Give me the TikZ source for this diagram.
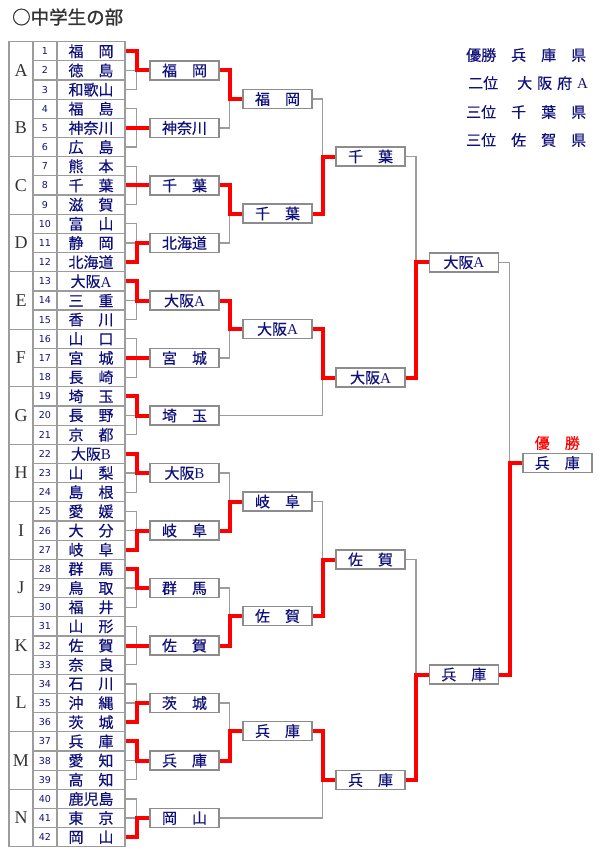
\documentclass[tikz,border=0pt]{standalone}
\usepackage{fontspec}
\setmainfont{Noto Sans CJK JP}[FakeBold=0.4]
\newfontfamily\titlefont{Noto Sans CJK JP}[FakeBold=1.2]
\newfontfamily\latinfont{Liberation Serif}
\newfontfamily\numfont{DejaVu Sans}
\usepackage{xcolor}
\definecolor{name-navy}{HTML}{10107A}
\definecolor{line-gray}{HTML}{9C9C9C}
\definecolor{box-gray}{HTML}{8C8C8C}
\definecolor{win-red}{HTML}{FF0000}
\definecolor{title-gray}{HTML}{333333}

\newcommand{\lat}[1]{{\latinfont #1}}

\tikzset{
  tcell/.style={draw=line-gray, line width=1.2pt, inner sep=0pt, minimum height=19.17pt},
  namecell/.style={tcell, minimum width=68pt, text=name-navy, font=\fontsize{15}{15}\selectfont},
  numcell/.style={tcell, minimum width=24pt, text=name-navy, font=\numfont\fontsize{9.5}{9.5}\selectfont},
  blockcell/.style={tcell, minimum width=24pt, minimum height=57.5pt, text=title-gray, font=\latinfont\fontsize{18}{18}\selectfont},
  teambox/.style={draw=box-gray, line width=1.5pt, fill=white, inner sep=0pt,
    minimum width=69pt, minimum height=19pt, text=name-navy, font=\fontsize{15}{15}\selectfont},
  ranktext/.style={anchor=west, inner sep=0pt, text=name-navy, font=\fontsize{15}{15}\selectfont},
  loss/.style={line-gray, line width=1.3pt},
  win/.style={win-red, line width=4pt},
}

\begin{document}
\begin{tikzpicture}[x=1pt, y=-1pt]
  \useasboundingbox (0,0) rectangle (610,860);
  \node[anchor=west, inner sep=0pt, text=title-gray, font=\titlefont\fontsize{18.5}{18.5}\selectfont] (title) at (12,17) {○中学生の部};

  % results
  \node[ranktext] (rank1) at (466,55) {優勝　兵　庫　県};
  \node[ranktext] (rank2) at (468,83) {二位　\hspace{4pt}大\hspace{5pt}阪\hspace{5pt}府\hspace{5pt}\lat{A}};
  \node[ranktext] (rank3) at (466,112) {三位　千　葉　県};
  \node[ranktext] (rank4) at (466,140) {三位　佐　賀　県};

  % table of entries
  \foreach \nm [count=\i] in {福　岡,徳　島,和歌山,福　島,神奈川,広　島,熊　本,千　葉,滋　賀,
      富　山,静　岡,北海道,大阪\lat{A},三　重,香　川,山　口,宮　城,長　崎,埼　玉,長　野,京　都,
      大阪\lat{B},山　梨,島　根,愛　媛,大　分,岐　阜,群　馬,鳥　取,福　井,山　形,佐　賀,奈　良,
      石　川,沖　縄,茨　城,兵　庫,愛　知,高　知,鹿児島,東　京,岡　山} {
    \node[numcell] (k\i) at (45,{41.7+19.17*(\i-0.5)}) {\i};
    \node[namecell] (n\i) at (91,{41.7+19.17*(\i-0.5)}) {\nm};
  }
  \foreach \g [count=\j] in {A,B,C,D,E,F,G,H,I,J,K,L,M,N}
    \node[blockcell] (b\g) at (21,{41.7+19.17*(3*\j-1.5)}) {\g};

  % first round
  \foreach \g/\nm [count=\j] in {A/福　岡,B/神奈川,C/千　葉,D/北海道,E/大阪\lat{A},F/宮　城,G/埼　玉,
      H/大阪\lat{B},I/岐　阜,J/群　馬,K/佐　賀,L/茨　城,M/兵　庫,N/岡　山}
    \node[teambox] (r\g) at (184.5,{41.7+19.17*(3*\j-1.5)}) {\nm};

  % later rounds
  \node[teambox] (sA) at (277.5,99) {福　岡};
  \node[teambox] (sB) at (277.5,213.5) {千　葉};
  \node[teambox] (sC) at (277.5,329) {大阪\lat{A}};
  \node[teambox] (sD) at (277.5,501.5) {岐　阜};
  \node[teambox] (sE) at (277.5,616) {佐　賀};
  \node[teambox] (sF) at (277.5,731) {兵　庫};
  \node[teambox] (tA) at (370.5,156.5) {千　葉};
  \node[teambox] (tB) at (370.5,377.5) {大阪\lat{A}};
  \node[teambox] (tC) at (370.5,559.5) {佐　賀};
  \node[teambox] (tD) at (370.5,780) {兵　庫};
  \node[teambox] (uA) at (463.8,262.3) {大阪\lat{A}};
  \node[teambox] (uB) at (463.8,674.5) {兵　庫};
  \node[teambox] (champ) at (557.3,463) {兵　庫};
  \node[inner sep=0pt, text=win-red, font=\fontsize{15}{15}\selectfont] (yusho) at (557.3,443) {優　勝};

  % gray lines
  \foreach \g [count=\j] in {A,B,C,D,E,F,G,H,I,J,K,L,M,N}
    \foreach \t in {0,1,2} {
      \pgfmathtruncatemacro\i{3*\j-\t}
      \draw[loss] (n\i.east) -| ([xshift=-12.5pt]r\g.west) -- (r\g.west);
    }
  \foreach \a/\b in {rB/sA,rD/sB,rF/sC,rH/sD,rJ/sE,rL/sF,sA/tA,rG/tB,sD/tC,rN/tD,tA/uA,tC/uB,uA/champ}
    \draw[loss] (\a.east) -| ([xshift=-12.5pt]\b.west) -- (\b.west);

  % red lines
  \foreach \a/\b in {n1/rA,n5/rB,n8/rC,n12/rD,n13/rE,n17/rF,n19/rG,n22/rH,n27/rI,n28/rJ,n32/rK,n36/rL,n37/rM,n42/rN,
      rA/sA,rC/sB,rE/sC,rI/sD,rK/sE,rM/sF,sB/tA,sC/tB,sE/tC,sF/tD,tB/uA,tD/uB,uB/champ}
    \draw[win] (\a.east) -| ([xshift=-12.5pt]\b.west) -- (\b.west);
\end{tikzpicture}
\end{document}
